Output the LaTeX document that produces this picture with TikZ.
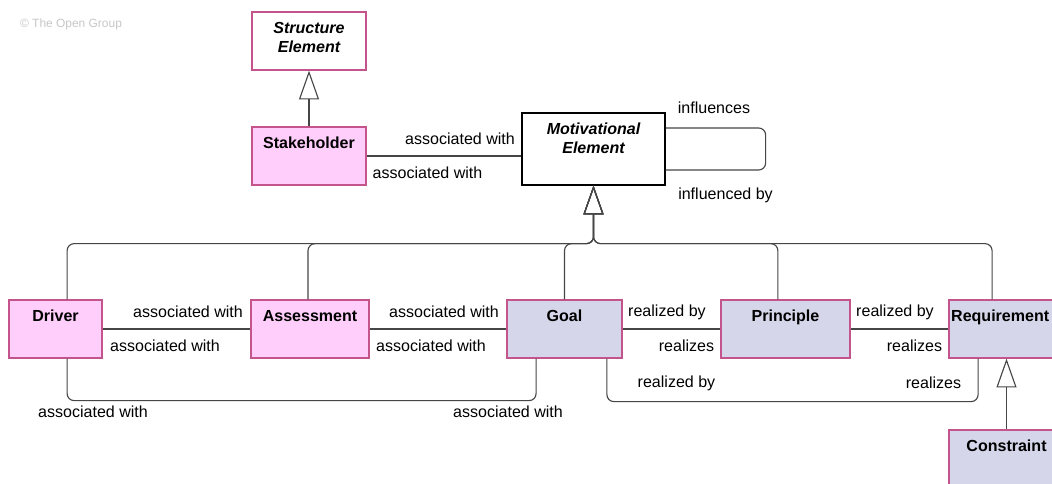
\documentclass[tikz,border=0pt]{standalone}
\usepackage{fontspec}
\setmainfont{Liberation Sans}
\usetikzlibrary{arrows.meta,calc}
\definecolor{elemedge}{RGB}{196,84,140}
\definecolor{stakepink}{RGB}{255,206,250}
\definecolor{goalblue}{RGB}{214,214,234}
\definecolor{linegray}{RGB}{70,70,70}

\tikzset{
  elem/.style={draw=elemedge, line width=0.9pt, inner ysep=0.2cm, text height=0.33cm, text depth=0.72cm,
    font=\fontsize{11.4}{13.5}\selectfont\bfseries},
  pinkbox/.style={elem, fill=stakepink},
  bluebox/.style={elem, fill=goalblue},
  abstract/.style={elem, fill=white, font=\fontsize{11.4}{13.5}\selectfont\bfseries\itshape},
  rel/.style={font=\fontsize{11.4}{13.5}\selectfont, inner sep=1pt},
  conn/.style={draw=linegray, line width=0.8pt, rounded corners=5pt},
  gen/.style={conn, -{Triangle[open, length=0.72cm, width=0.5cm, line width=0.8pt]}}
}

\begin{document}
\begin{tikzpicture}[x=0.025cm, y=-0.025cm]
  \useasboundingbox (0,0) rectangle (1052,484);
  \clip (0,0) rectangle (1052,484);
  \fill[white] (0,0) rectangle (1052,484);

  \node[font=\fontsize{8.5}{10}\selectfont, text=black!22] (copy) at (71,24) {© The Open Group};

  % Elements
  \node[abstract, minimum width=2.85cm] (struct) at (309,41)
    {\begin{tabular}[t]{@{}c@{}}Structure\\Element\end{tabular}};
  \node[pinkbox, minimum width=2.85cm] (stake) at (309,156) {Stakeholder};
  \node[abstract, draw=black, minimum width=3.575cm, text depth=1.07cm] (me) at (593.5,149)
    {\begin{tabular}[t]{@{}c@{}}Motivational\\Element\end{tabular}};

  \node[pinkbox, minimum width=2.325cm] (drv) at (55.5,329) {Driver};
  \node[pinkbox, minimum width=2.95cm] (asm) at (310,329) {Assessment};
  \node[bluebox, minimum width=2.875cm] (goal) at (564.5,329) {Goal};
  \node[bluebox, minimum width=3.225cm] (prin) at (785.5,329) {Principle};
  \node[bluebox, minimum width=2.875cm] (req) at (1006.5,329) {\hspace*{-9pt}Requirement};
  \node[bluebox, minimum width=2.875cm] (con) at (1006.5,459) {Constraint};

  % Specialisation
  \draw[gen] (stake.north) -- (struct.south);
  \draw[gen] (con.north) -- (req.south);
  \coordinate (junc) at ($(me.south)+(0,58)$);
  \foreach \child/\dx in {drv/0.29, asm/-0.05, goal/0, prin/-0.19, req/-0.36}
    \draw[gen] ([xshift=\dx cm]\child.north) |- (junc) -- (me.south);

  % Relations
  \draw[conn] (stake.east) -- (stake.east -| me.west);
  \draw[conn] ([yshift=0.525cm]me.east) -- ++(100,0) |- ([yshift=-0.525cm]me.east);
  \draw[conn] (drv.east) -- (asm.west);
  \draw[conn] (asm.east) -- (goal.west);
  \draw[conn] (goal.east) -- (prin.west);
  \draw[conn] (prin.east) -- (req.west);
  \draw[conn] ([xshift=0.29cm]drv.south) -- ++(0,42) -| ([xshift=-0.71cm]goal.south);
  \draw[conn] ([xshift=1.06cm]goal.south) -- ++(0,43) -| ([xshift=-0.71cm]req.south);

  % Labels
  \node[rel] (stakeme) at (460,139) {associated with};
  \node[rel] (mestake) at (427.5,173) {associated with};
  \node[rel] (infl) at (714,108) {influences};
  \node[rel] (inflby) at (725.5,195) {influenced by};
  \node[rel] (drvasm) at (188,312) {associated with};
  \node[rel] (asmdrv) at (165,346) {associated with};
  \node[rel] (asmgoal) at (444,312) {associated with};
  \node[rel] (goalasm) at (431,346) {associated with};
  \node[rel] (goalprin) at (667,312) {realized by};
  \node[rel] (pringoal) at (686.5,346) {realizes};
  \node[rel] (prinreq) at (895,312) {realized by};
  \node[rel] (reqprin) at (914.5,346) {realizes};
  \node[rel] (drvgoal) at (93,412) {associated with};
  \node[rel] (goaldrv) at (508,412) {associated with};
  \node[rel] (goalreq) at (676.5,383) {realized by};
  \node[rel] (reqgoal) at (933.5,383) {realizes};
\end{tikzpicture}
\end{document}
